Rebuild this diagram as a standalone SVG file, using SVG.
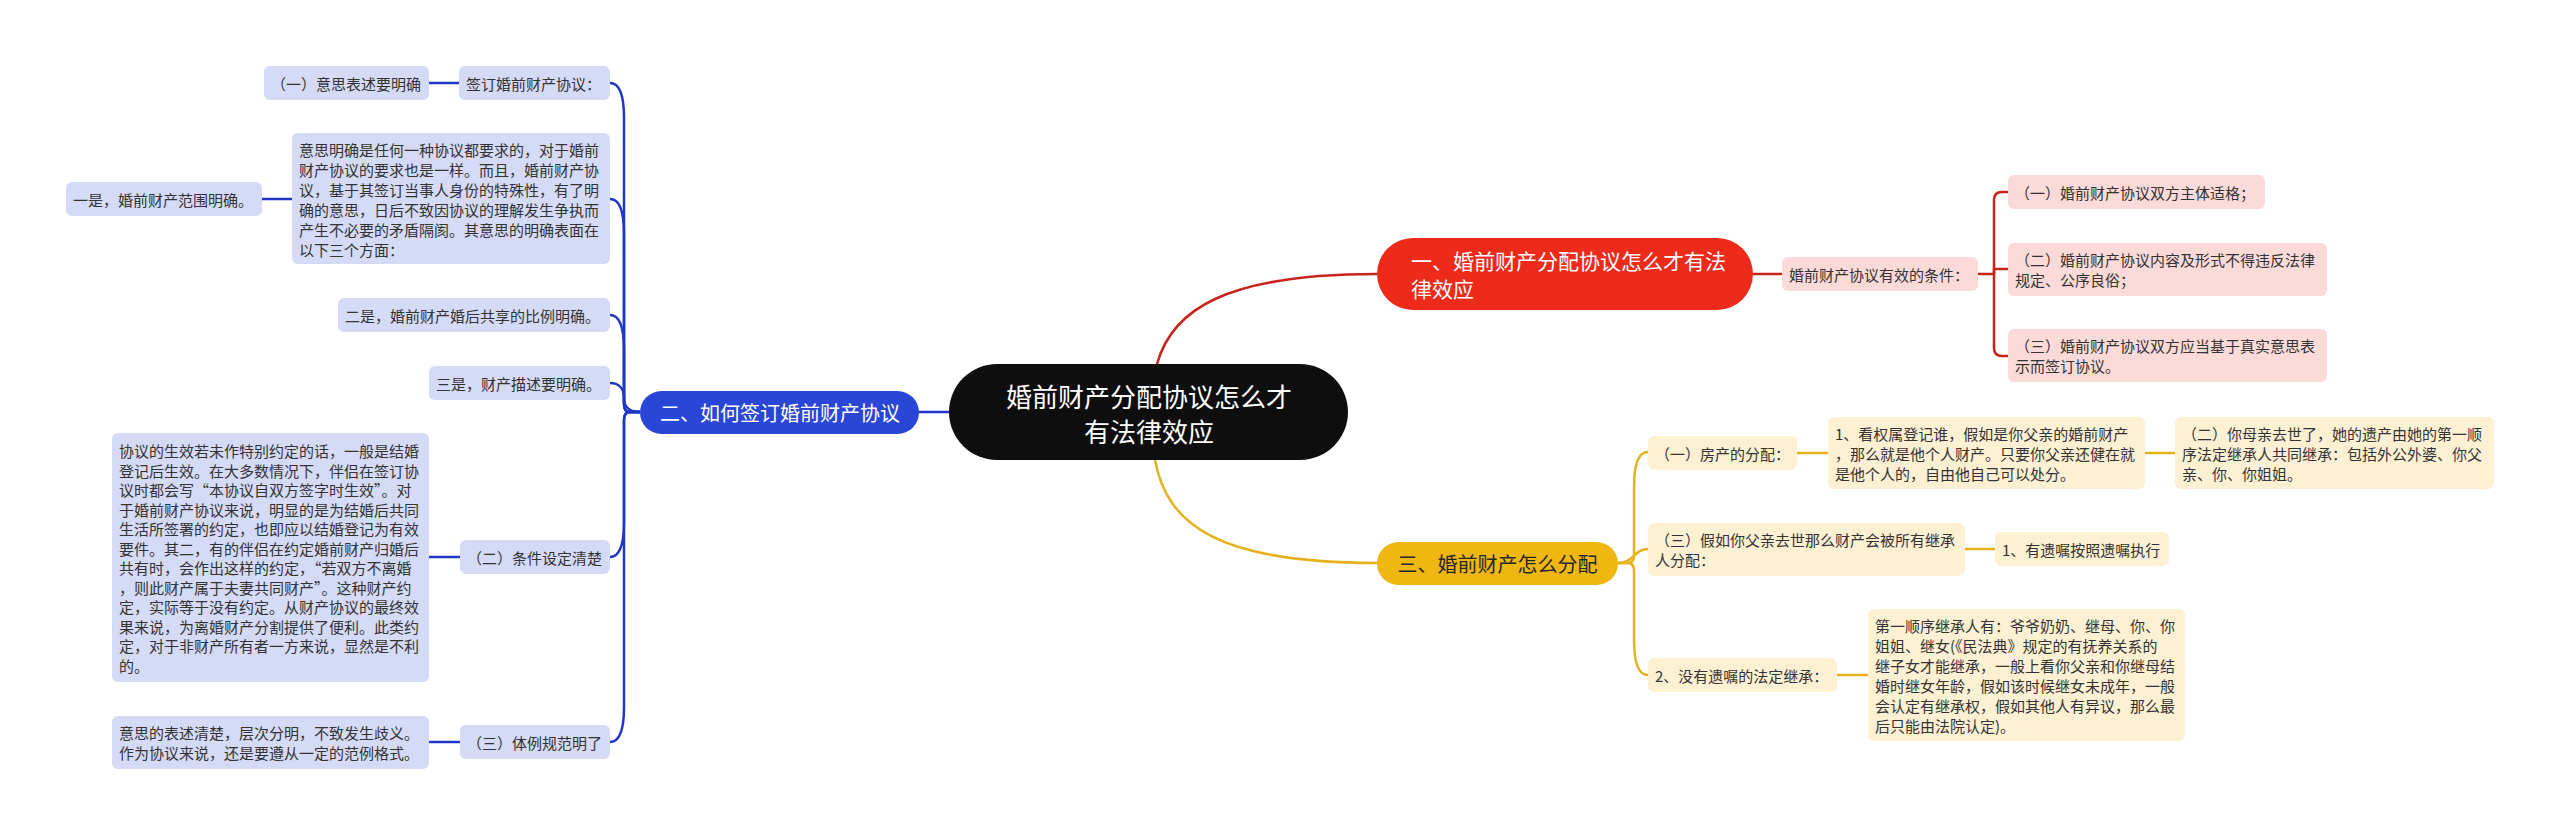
<svg xmlns="http://www.w3.org/2000/svg" width="2560" height="835" viewBox="0 0 2560 835">
<style>
text { font-family: "Noto Sans CJK SC", "Noto Sans", sans-serif; }
.t { font-size: 15px; fill: #333333; dominant-baseline: central; }
.bl { fill: #D5DAF6; }
.rl { fill: #FCDAD8; }
.yl { fill: #FDF0D3; }
.cb { fill: none; stroke: #1F36C6; stroke-width: 2.5; }
.cr { fill: none; stroke: #C8231B; stroke-width: 2.5; }
.cy { fill: none; stroke: #E5B21C; stroke-width: 2.5; }
.mt { font-size: 20px; dominant-baseline: central; text-anchor: middle; }
</style>
<rect width="2560" height="835" fill="#ffffff"/>
<g id="connectors">
  <path class="cr" d="M1157,380 L1157,364 C1172,310 1225,274 1377,274"/>
  <path class="cy" d="M1155,445 L1155,460 C1167,525 1218,563 1378,563"/>
  <path class="cb" d="M950,412 L918,412"/>
  <path class="cb" d="M640,412 L630,412 Q624,412 624,404 L624,118 C624,95 620,83 610,83"/>
  <path class="cb" d="M640,412 L630,412 Q624,412 624,404 L624,234 C624,211 620,199 610,199"/>
  <path class="cb" d="M640,412 L630,412 Q624,412 624,404 L624,350 C624,327 620,315 610,315"/>
  <path class="cb" d="M640,412 C628,412 624,405 624,398 C624,390 620,383 610,383"/>
  <path class="cb" d="M640,412 L630,412 Q624,412 624,420 L624,522 C624,545 620,557 610,557"/>
  <path class="cb" d="M640,412 L630,412 Q624,412 624,420 L624,707 C624,730 620,742 610,742"/>
  <path class="cb" d="M459,83 L429,83"/>
  <path class="cb" d="M292,199 L262,199"/>
  <path class="cb" d="M460,557 L429,557"/>
  <path class="cb" d="M460,742 L429,742"/>
  <path class="cr" d="M1753,274 L1782,274"/>
  <path class="cr" d="M1978,274 L1994,274"/>
  <path class="cr" d="M1994,274 L1994,200 Q1994,192 2002,192 L2008,192"/>
  <path class="cr" d="M1994,274 L1994,269 L2008,269"/>
  <path class="cr" d="M1994,274 L1994,348 Q1994,356 2002,356 L2008,356"/>
  <path class="cy" d="M1618,563 L1628,563 Q1634,563 1634,555 L1634,487 C1634,464 1638,452 1648,452"/>
  <path class="cy" d="M1618,563 C1634,563 1634,549 1648,549"/>
  <path class="cy" d="M1618,563 L1628,563 Q1634,563 1634,571 L1634,640 C1634,663 1638,675 1648,675"/>
  <path class="cy" d="M1797,453 L1828,453"/>
  <path class="cy" d="M2145,453 L2175,453"/>
  <path class="cy" d="M1965,549 L1995,549"/>
  <path class="cy" d="M1837,675 L1868,675"/>
</g>
<g id="center">
  <rect x="949" y="364" width="399" height="96" rx="48" fill="#0E0E0E"/>
  <text x="1149" y="395" font-size="26" fill="#ffffff" text-anchor="middle" dominant-baseline="central">婚前财产分配协议怎么才</text>
  <text x="1149" y="430" font-size="26" fill="#ffffff" text-anchor="middle" dominant-baseline="central">有法律效应</text>
</g>
<g id="n-red">
  <rect x="1377" y="238" width="376" height="72" rx="36" fill="#EE2A1B"/>
  <text x="1411" y="260" font-size="21" fill="#ffffff" dominant-baseline="central">一、婚前财产分配协议怎么才有法</text>
  <text x="1411" y="288" font-size="21" fill="#ffffff" dominant-baseline="central">律效应</text>
</g>
<g id="n-red-cond">
  <rect class="rl" x="1782" y="257" width="196" height="34" rx="6"/>
  <text class="t" x="1789" y="274">婚前财产协议有效的条件：</text>
</g>
<g id="n-red-1">
  <rect class="rl" x="2008" y="175" width="257" height="34" rx="6"/>
  <text class="t" x="2015" y="192">（一）婚前财产协议双方主体适格；</text>
</g>
<g id="n-red-2">
  <rect class="rl" x="2008" y="243" width="319" height="53" rx="6"/>
  <text class="t" x="2015" y="259.5">（二）婚前财产协议内容及形式不得违反法律</text>
  <text class="t" x="2015" y="279.5">规定、公序良俗；</text>
</g>
<g id="n-red-3">
  <rect class="rl" x="2008" y="329" width="319" height="53" rx="6"/>
  <text class="t" x="2015" y="345.5">（三）婚前财产协议双方应当基于真实意思表</text>
  <text class="t" x="2015" y="365.5">示而签订协议。</text>
</g>
<g id="n-blue">
  <rect x="640" y="391" width="279" height="43" rx="21.5" fill="#2A46D6"/>
  <text class="mt" x="780" y="412" fill="#ffffff">二、如何签订婚前财产协议</text>
</g>
<g id="n-b1">
  <rect class="bl" x="459" y="66" width="151" height="34" rx="6"/>
  <text class="t" x="466" y="83">签订婚前财产协议：</text>
</g>
<g id="n-b1a">
  <rect class="bl" x="264" y="66" width="165" height="34" rx="6"/>
  <text class="t" x="271" y="83">（一）意思表述要明确</text>
</g>
<g id="n-b2">
  <rect class="bl" x="292" y="133" width="318" height="131" rx="6"/>
  <text class="t" x="299" y="149.5">意思明确是任何一种协议都要求的，对于婚前</text>
  <text class="t" x="299" y="169.5">财产协议的要求也是一样。而且，婚前财产协</text>
  <text class="t" x="299" y="189.5">议，基于其签订当事人身份的特殊性，有了明</text>
  <text class="t" x="299" y="209.5">确的意思，日后不致因协议的理解发生争执而</text>
  <text class="t" x="299" y="229.5">产生不必要的矛盾隔阂。其意思的明确表面在</text>
  <text class="t" x="299" y="249.5">以下三个方面：</text>
</g>
<g id="n-b2a">
  <rect class="bl" x="66" y="182" width="196" height="34" rx="6"/>
  <text class="t" x="73" y="199">一是，婚前财产范围明确。</text>
</g>
<g id="n-b3">
  <rect class="bl" x="338" y="298" width="272" height="34" rx="6"/>
  <text class="t" x="345" y="315">二是，婚前财产婚后共享的比例明确。</text>
</g>
<g id="n-b4">
  <rect class="bl" x="429" y="366" width="181" height="34" rx="6"/>
  <text class="t" x="436" y="383">三是，财产描述要明确。</text>
</g>
<g id="n-b5">
  <rect class="bl" x="460" y="540" width="150" height="34" rx="6"/>
  <text class="t" x="467" y="557">（二）条件设定清楚</text>
</g>
<g id="n-b5a">
  <rect class="bl" x="112" y="433" width="317" height="249" rx="6"/>
  <text class="t" x="119" y="450.5">协议的生效若未作特别约定的话，一般是结婚</text>
  <text class="t" x="119" y="470">登记后生效。在大多数情况下，伴侣在签订协</text>
  <text class="t" x="119" y="489.5">议时都会写“本协议自双方签字时生效”。对</text>
  <text class="t" x="119" y="509">于婚前财产协议来说，明显的是为结婚后共同</text>
  <text class="t" x="119" y="528.5">生活所签署的约定，也即应以结婚登记为有效</text>
  <text class="t" x="119" y="548">要件。其二，有的伴侣在约定婚前财产归婚后</text>
  <text class="t" x="119" y="567.5">共有时，会作出这样的约定，“若双方不离婚</text>
  <text class="t" x="119" y="587">，则此财产属于夫妻共同财产”。这种财产约</text>
  <text class="t" x="119" y="606.5">定，实际等于没有约定。从财产协议的最终效</text>
  <text class="t" x="119" y="626">果来说，为离婚财产分割提供了便利。此类约</text>
  <text class="t" x="119" y="645.5">定，对于非财产所有者一方来说，显然是不利</text>
  <text class="t" x="119" y="665">的。</text>
</g>
<g id="n-b6">
  <rect class="bl" x="460" y="725" width="150" height="34" rx="6"/>
  <text class="t" x="467" y="742">（三）体例规范明了</text>
</g>
<g id="n-b6a">
  <rect class="bl" x="112" y="716" width="317" height="53" rx="6"/>
  <text class="t" x="119" y="732.5">意思的表述清楚，层次分明，不致发生歧义。</text>
  <text class="t" x="119" y="752.5">作为协议来说，还是要遵从一定的范例格式。</text>
</g>
<g id="n-yellow">
  <rect x="1377" y="542" width="241" height="43" rx="21.5" fill="#EFB710"/>
  <text class="mt" x="1497.5" y="563.5" fill="#262626">三、婚前财产怎么分配</text>
</g>
<g id="n-y1">
  <rect class="yl" x="1648" y="436" width="149" height="34" rx="6"/>
  <text class="t" x="1655" y="453">（一）房产的分配：</text>
</g>
<g id="n-y1a">
  <rect class="yl" x="1828" y="417" width="317" height="72" rx="6"/>
  <text class="t" x="1835" y="433">1、看权属登记谁，假如是你父亲的婚前财产</text>
  <text class="t" x="1835" y="453">，那么就是他个人财产。只要你父亲还健在就</text>
  <text class="t" x="1835" y="473">是他个人的，自由他自己可以处分。</text>
</g>
<g id="n-y1b">
  <rect class="yl" x="2175" y="417" width="319" height="72" rx="6"/>
  <text class="t" x="2182" y="433">（二）你母亲去世了，她的遗产由她的第一顺</text>
  <text class="t" x="2182" y="453">序法定继承人共同继承：包括外公外婆、你父</text>
  <text class="t" x="2182" y="473">亲、你、你姐姐。</text>
</g>
<g id="n-y2">
  <rect class="yl" x="1648" y="523" width="317" height="53" rx="6"/>
  <text class="t" x="1655" y="539.5">（三）假如你父亲去世那么财产会被所有继承</text>
  <text class="t" x="1655" y="559.5">人分配：</text>
</g>
<g id="n-y2a">
  <rect class="yl" x="1995" y="532" width="174" height="34" rx="6"/>
  <text class="t" x="2002" y="549">1、有遗嘱按照遗嘱执行</text>
</g>
<g id="n-y3">
  <rect class="yl" x="1648" y="658" width="189" height="34" rx="6"/>
  <text class="t" x="1655" y="675">2、没有遗嘱的法定继承：</text>
</g>
<g id="n-y3a">
  <rect class="yl" x="1868" y="609" width="317" height="132" rx="6"/>
  <text class="t" x="1875" y="625">第一顺序继承人有：爷爷奶奶、继母、你、你</text>
  <text class="t" x="1875" y="645">姐姐、继女(《民法典》规定的有抚养关系的</text>
  <text class="t" x="1875" y="665">继子女才能继承，一般上看你父亲和你继母结</text>
  <text class="t" x="1875" y="685">婚时继女年龄，假如该时候继女未成年，一般</text>
  <text class="t" x="1875" y="705">会认定有继承权，假如其他人有异议，那么最</text>
  <text class="t" x="1875" y="725">后只能由法院认定)。</text>
</g>
</svg>
